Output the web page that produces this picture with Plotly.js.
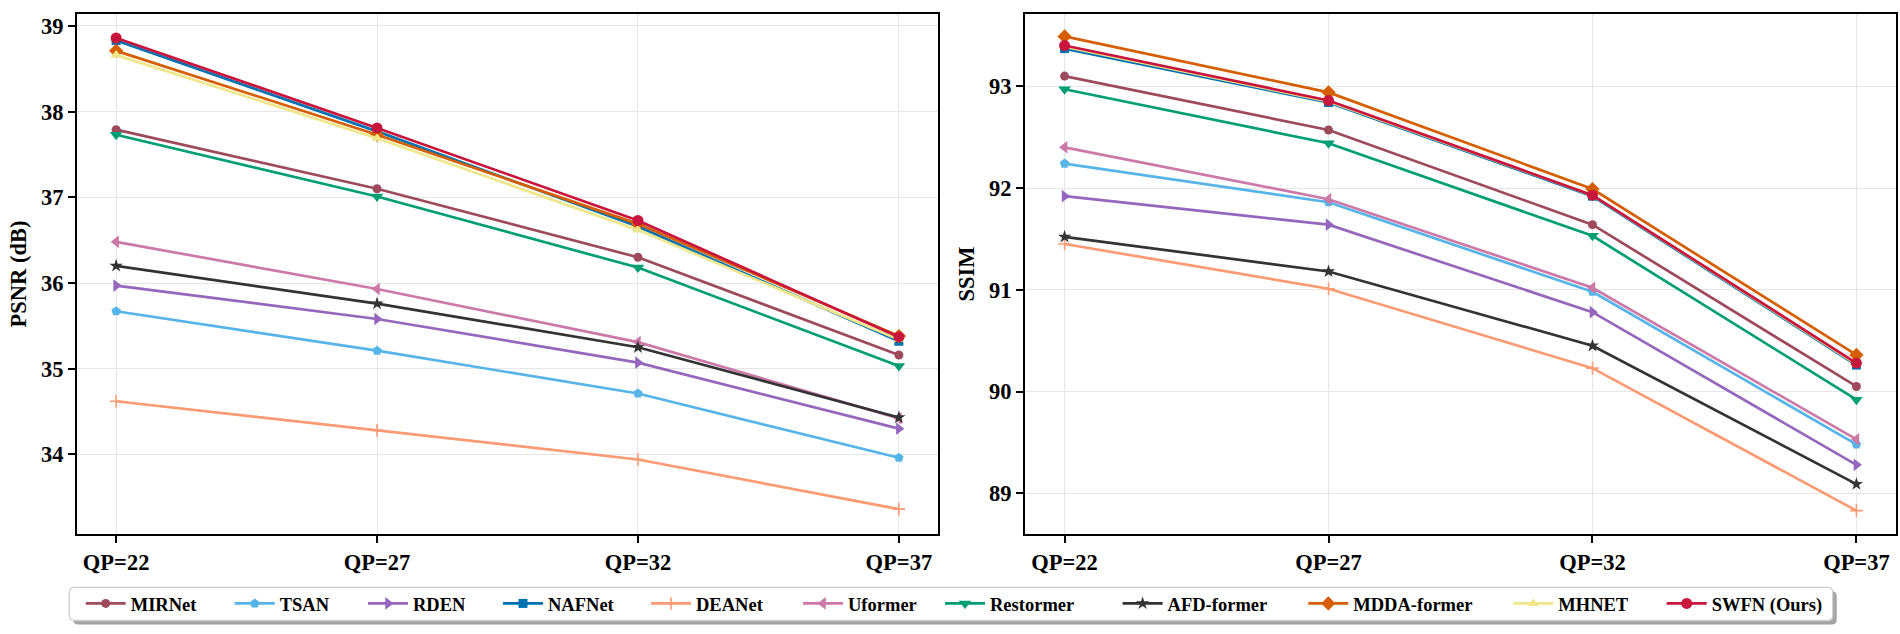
<!DOCTYPE html>
<html>
<head>
<meta charset="utf-8">
<script src="https://cdn.plot.ly/plotly-3.0.1.min.js"></script>
<style>
  html, body { margin: 0; padding: 0; background: #fff; }
  #chart { width: 1900px; height: 634px; }
</style>
</head>
<body>
<div id="chart"></div>
<script>
// QP categories (x axis)
const QP = ["QP=22", "QP=27", "QP=32", "QP=37"];

// PSNR (dB) per method
const MIRNET_PSNR = [37.79, 37.10, 36.30, 35.16];
const TSAN_PSNR = [35.67, 35.21, 34.71, 33.96];
const RDEN_PSNR = [35.97, 35.58, 35.07, 34.30];
const NAFNET_PSNR = [38.83, 37.77, 36.66, 35.32];
const DEANET_PSNR = [34.62, 34.28, 33.94, 33.36];
const UFORMER_PSNR = [36.48, 35.93, 35.31, 34.42];
const RESTORMER_PSNR = [37.73, 37.01, 36.18, 35.03];
const AFD_PSNR = [36.20, 35.76, 35.25, 34.43];
const MDDA_PSNR = [38.71, 37.73, 36.69, 35.38];
const MHNET_PSNR = [38.66, 37.69, 36.62, 35.34];
const SWFN_PSNR = [38.86, 37.81, 36.73, 35.37];

// SSIM (x100) per method
const MIRNET_SSIM = [93.10, 92.57, 91.64, 90.05];
const TSAN_SSIM = [92.24, 91.86, 90.98, 89.48];
const RDEN_SSIM = [91.92, 91.64, 90.78, 89.28];
const NAFNET_SSIM = [93.37, 92.84, 91.92, 90.26];
const DEANET_SSIM = [91.45, 91.01, 90.23, 88.83];
const UFORMER_SSIM = [92.40, 91.89, 91.02, 89.53];
const RESTORMER_SSIM = [92.97, 92.44, 91.53, 89.92];
const AFD_SSIM = [91.52, 91.18, 90.45, 89.09];
const MDDA_SSIM = [93.49, 92.94, 91.99, 90.36];
const MHNET_SSIM = [93.39, 92.85, 91.93, 90.27];
const SWFN_SSIM = [93.40, 92.86, 91.93, 90.28];

const PSNR_TICKS = [34, 35, 36, 37, 38, 39];
const SSIM_TICKS = [89, 90, 91, 92, 93];

const SERIES = [
  { name: "MIRNet", psnr: MIRNET_PSNR, ssim: MIRNET_SSIM, color: "#9e4a5d", symbol: "circle", size: 9 },
  { name: "TSAN", psnr: TSAN_PSNR, ssim: TSAN_SSIM, color: "#56b4e9", symbol: "pentagon", size: 10 },
  { name: "RDEN", psnr: RDEN_PSNR, ssim: RDEN_SSIM, color: "#9467bd", symbol: "triangle-right", size: 11 },
  { name: "NAFNet", psnr: NAFNET_PSNR, ssim: NAFNET_SSIM, color: "#0072b2", symbol: "square", size: 9 },
  { name: "DEANet", psnr: DEANET_PSNR, ssim: DEANET_SSIM, color: "#fc9b73", symbol: "cross-thin", size: 9 },
  { name: "Uformer", psnr: UFORMER_PSNR, ssim: UFORMER_SSIM, color: "#cc79a7", symbol: "triangle-left", size: 11 },
  { name: "Restormer", psnr: RESTORMER_PSNR, ssim: RESTORMER_SSIM, color: "#009e73", symbol: "triangle-down", size: 11 },
  { name: "AFD-former", psnr: AFD_PSNR, ssim: AFD_SSIM, color: "#333333", symbol: "star", size: 10 },
  { name: "MDDA-former", psnr: MDDA_PSNR, ssim: MDDA_SSIM, color: "#d55e00", symbol: "diamond", size: 11 },
  { name: "MHNET", psnr: MHNET_PSNR, ssim: MHNET_SSIM, color: "#f0e68c", symbol: "triangle-up", size: 10 },
  { name: "SWFN (Ours)", psnr: SWFN_PSNR, ssim: SWFN_SSIM, color: "#c9143c", symbol: "circle", size: 11 },
];

// ---- layout geometry (pixels of the 1900x634 page) ----
const FONT = "'Liberation Serif', 'Times New Roman', serif";
const W = 1900, H = 634;
const M = { l: 77, r: 4, t: 14, b: 100 };
const PW = W - M.l - M.r, PH = H - M.t - M.b;
const px = (x) => (x - M.l) / PW;
const py = (y) => 1 - (y - M.t) / PH;

// where each legend label starts (px), matplotlib packs them by text width
const LEGEND_TEXT_X = [130.7, 279.7, 413, 548, 696, 848, 990, 1167.6, 1353.3, 1558.3, 1711.7];
const LEGEND_BOX = { x0: 69.3, y0: 587.3, x1: 1832.7, y1: 620.5 };

function roundRect(b, dx, dy, r) {
  const P = (x, y) => `${px(x + dx)},${py(y + dy)}`;
  const { x0, y0, x1, y1 } = b;
  return `M${P(x0 + r, y0)} L${P(x1 - r, y0)} Q${P(x1, y0)} ${P(x1, y0 + r)} ` +
    `L${P(x1, y1 - r)} Q${P(x1, y1)} ${P(x1 - r, y1)} L${P(x0 + r, y1)} ` +
    `Q${P(x0, y1)} ${P(x0, y1 - r)} L${P(x0, y0 + r)} Q${P(x0, y0)} ${P(x0 + r, y0)} Z`;
}

const legendKey = (i) => (i === 0 ? "legend" : "legend" + (i + 1));

const traces = [];
SERIES.forEach((s, i) => {
  const marker = {
    symbol: s.symbol,
    size: s.size,
    color: s.color,
    line: s.symbol === "cross-thin" ? { color: s.color, width: 1.6 } : { width: 0 },
  };
  const common = {
    x: QP,
    type: "scatter",
    mode: "lines+markers",
    name: s.name,
    line: { color: s.color, width: 2.7 },
    marker,
    hovertemplate: `<b>${s.name}</b><br>%{x}: %{y:.2f}<extra></extra>`,
  };
  traces.push({ ...common, y: s.psnr, xaxis: "x", yaxis: "y", legend: legendKey(i) });
  traces.push({ ...common, y: s.ssim, xaxis: "x2", yaxis: "y2", showlegend: false });
});

const tickFont = { family: FONT, size: 22.5, color: "#000", weight: "bold" };

function xAxis(domain, anchor) {
  return {
    domain, anchor,
    type: "category",
    range: [-0.15, 3.15],
    showline: true, mirror: true, linecolor: "#000", linewidth: 2,
    ticks: "outside", ticklen: 7, tickwidth: 1.5, tickcolor: "#000",
    showgrid: true, gridcolor: "#e6e6e6", gridwidth: 1.2,
    zeroline: false,
    tickfont: tickFont,
  };
}

function yAxis(anchor, range, ticks, title) {
  return {
    anchor,
    range,
    tickvals: ticks,
    showline: true, mirror: true, linecolor: "#000", linewidth: 2,
    ticks: "outside", ticklen: 7, tickwidth: 1.5, tickcolor: "#000",
    showgrid: true, gridcolor: "#e6e6e6", gridwidth: 1.2,
    zeroline: false,
    tickfont: tickFont,
    title: { text: title, standoff: 8, font: { family: FONT, size: 22.5, color: "#000", weight: "bold" } },
  };
}

const layout = {
  width: W, height: H,
  margin: M,
  paper_bgcolor: "#fff",
  plot_bgcolor: "#fff",
  font: { family: FONT, color: "#000" },
  xaxis: xAxis([0, px(938)], "y"),
  yaxis: yAxis("x", [33.07, 39.14], PSNR_TICKS, "PSNR (dB)"),
  xaxis2: xAxis([px(1025), 1], "y2"),
  yaxis2: yAxis("x2", [88.6, 93.71], SSIM_TICKS, "SSIM"),
  shapes: [
    {
      type: "path", xref: "paper", yref: "paper", layer: "above",
      path: roundRect(LEGEND_BOX, 4, 4, 5),
      fillcolor: "#a3a3a3", line: { width: 0 },
    },
    {
      type: "path", xref: "paper", yref: "paper", layer: "above",
      path: roundRect(LEGEND_BOX, 0, 0, 5),
      fillcolor: "#fff", line: { color: "#cfcfcf", width: 1.3 },
    },
  ],
};

SERIES.forEach((s, i) => {
  layout[legendKey(i)] = {
    x: px(LEGEND_TEXT_X[i] - 50),
    xanchor: "left",
    y: py((LEGEND_BOX.y0 + LEGEND_BOX.y1) / 2),
    yanchor: "middle",
    orientation: "h",
    bgcolor: "rgba(0,0,0,0)",
    borderwidth: 0,
    itemwidth: 40,
    font: { family: FONT, size: 18.5, color: "#000", weight: "bold" },
  };
});

Plotly.newPlot("chart", traces, layout, { displayModeBar: false, responsive: false });
</script>
</body>
</html>
